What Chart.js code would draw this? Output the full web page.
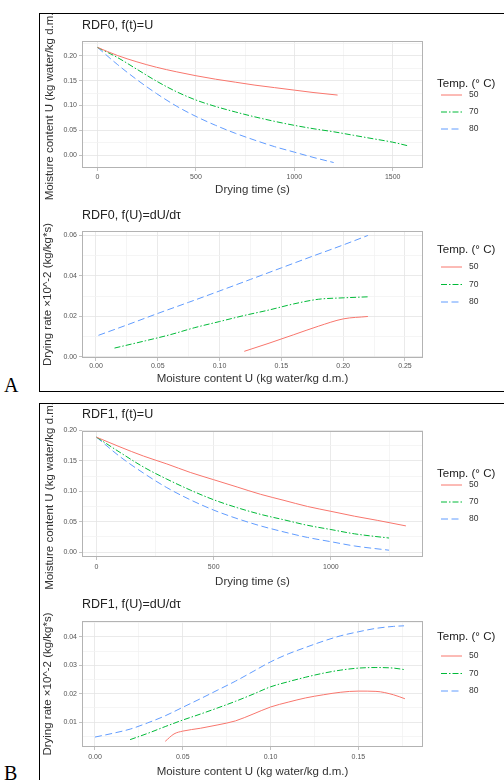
<!DOCTYPE html>
<html>
<head>
<meta charset="utf-8">
<script src="https://cdn.jsdelivr.net/npm/chart.js@4.4.1/dist/chart.umd.min.js"></script>
<style>
  html, body { margin: 0; padding: 0; background: #fff; }
  body { width: 504px; height: 780px; position: relative; overflow: hidden; }
  .box { position: absolute; border: 1px solid #000; box-sizing: border-box; }
  .tag { position: absolute; font-family: "Liberation Serif", "Times New Roman", serif; font-size: 20px; line-height: 20px; color: #000; }
  .panel { position: absolute; left: 40px; }
</style>
</head>
<body>
<div class="box" style="left:39px; top:13px; width:480px; height:379px;"></div>
<div class="box" style="left:39px; top:403px; width:480px; height:400px;"></div>
<div class="tag" style="left:4px; top:375px;">A</div>
<div class="tag" style="left:4px; top:763px;">B</div>
<div class="panel" style="top:14px;"><canvas id="p1" width="464" height="186"></canvas></div>
<div class="panel" style="top:200px;"><canvas id="p2" width="464" height="191"></canvas></div>
<div class="panel" style="top:404px;"><canvas id="p3" width="464" height="186"></canvas></div>
<div class="panel" style="top:590px;"><canvas id="p4" width="464" height="190"></canvas></div>
<script>
// series names (legend)
const temps = ['50', '70', '80'];

// RDF0, f(t)=U : moisture content vs drying time
const rdf0Time50 = [0, 100, 200, 300, 400, 500, 600, 700, 800, 900, 1000, 1100, 1220];
const rdf0U50    = [0.217, 0.201, 0.188, 0.177, 0.168, 0.160, 0.153, 0.147, 0.141, 0.136, 0.131, 0.126, 0.121];
const rdf0Time70 = [0, 100, 200, 300, 400, 500, 600, 700, 800, 900, 1000, 1100, 1200, 1300, 1400, 1500, 1575];
const rdf0U70    = [0.217, 0.197, 0.173, 0.149, 0.128, 0.111, 0.098, 0.087, 0.077, 0.068, 0.060, 0.053, 0.047, 0.040, 0.033, 0.026, 0.019];
const rdf0Time80 = [0, 100, 200, 300, 400, 500, 600, 700, 800, 900, 1000, 1100, 1200];
const rdf0U80    = [0.217, 0.183, 0.152, 0.124, 0.099, 0.078, 0.060, 0.044, 0.030, 0.017, 0.006, -0.005, -0.015];

// RDF0, f(U)=dU/dt : drying rate vs moisture content
const rdf0RateU50 = [0.120, 0.140, 0.160, 0.180, 0.200, 0.220];
const rdf0Rate50  = [0.0028, 0.0068, 0.0110, 0.0152, 0.0188, 0.0200];
const rdf0RateU70 = [0.015, 0.040, 0.060, 0.080, 0.100, 0.120, 0.140, 0.160, 0.180, 0.200, 0.220];
const rdf0Rate70  = [0.0044, 0.0080, 0.0110, 0.0145, 0.0175, 0.0205, 0.0232, 0.0262, 0.0285, 0.0292, 0.0297];
const rdf0RateU80 = [0.002, 0.025, 0.050, 0.075, 0.100, 0.125, 0.150, 0.175, 0.200, 0.220];
const rdf0Rate80  = [0.0107, 0.0158, 0.0215, 0.0270, 0.0326, 0.0383, 0.0440, 0.0497, 0.0553, 0.0600];

// RDF1, f(t)=U
const rdf1Time50 = [0, 100, 200, 300, 400, 500, 600, 700, 800, 900, 1000, 1100, 1200, 1320];
const rdf1U50    = [0.189, 0.173, 0.158, 0.145, 0.131, 0.119, 0.107, 0.095, 0.085, 0.075, 0.067, 0.059, 0.052, 0.043];
const rdf1Time70 = [0, 100, 200, 300, 400, 500, 600, 700, 800, 900, 1000, 1100, 1248];
const rdf1U70    = [0.189, 0.164, 0.140, 0.120, 0.102, 0.086, 0.073, 0.062, 0.053, 0.044, 0.037, 0.030, 0.023];
const rdf1Time80 = [0, 100, 200, 300, 400, 500, 600, 700, 800, 900, 1000, 1100, 1248];
const rdf1U80    = [0.189, 0.157, 0.130, 0.106, 0.086, 0.069, 0.055, 0.043, 0.033, 0.024, 0.017, 0.010, 0.003];

// RDF1, f(U)=dU/dt
const rdf1RateU50 = [0.040, 0.045, 0.050, 0.060, 0.070, 0.080, 0.090, 0.100, 0.110, 0.120, 0.130, 0.140, 0.150, 0.160, 0.170, 0.1765];
const rdf1Rate50  = [0.0032, 0.0058, 0.0068, 0.0078, 0.0090, 0.0104, 0.0128, 0.0153, 0.0170, 0.0185, 0.0196, 0.0205, 0.0209, 0.0208, 0.0196, 0.0182];
const rdf1RateU70 = [0.020, 0.030, 0.040, 0.050, 0.060, 0.070, 0.080, 0.090, 0.100, 0.110, 0.120, 0.130, 0.140, 0.150, 0.160, 0.170, 0.176];
const rdf1Rate70  = [0.0038, 0.0060, 0.0084, 0.0107, 0.0128, 0.0150, 0.0173, 0.0198, 0.0224, 0.0242, 0.0258, 0.0272, 0.0283, 0.0290, 0.0292, 0.0290, 0.0285];
const rdf1RateU80 = [0.000, 0.010, 0.020, 0.030, 0.040, 0.050, 0.060, 0.070, 0.080, 0.090, 0.100, 0.110, 0.120, 0.130, 0.140, 0.150, 0.160, 0.170, 0.176];
const rdf1Rate80  = [0.0047, 0.0060, 0.0075, 0.0097, 0.0122, 0.0152, 0.0182, 0.0213, 0.0244, 0.0278, 0.0312, 0.0340, 0.0363, 0.0385, 0.0404, 0.0418, 0.0430, 0.0437, 0.0439];

// tick labels
const rdf0TimeTicks = [0, 500, 1000, 1500];
const rdf0UTicks = [0.00, 0.05, 0.10, 0.15, 0.20];
const rdf0RateXTicks = [0.00, 0.05, 0.10, 0.15, 0.20, 0.25];
const rdf0RateYTicks = [0.00, 0.02, 0.04, 0.06];
const rdf1TimeTicks = [0, 500, 1000];
const rdf1UTicks = [0.00, 0.05, 0.10, 0.15, 0.20];
const rdf1RateXTicks = [0.00, 0.05, 0.10, 0.15];
const rdf1RateYTicks = [0.01, 0.02, 0.03, 0.04];

const colors = ['#F8766D', '#00BA38', '#619CFF'];
const dashes = [[], [6, 2, 1.5, 2], [7, 3.5]];

Chart.defaults.font.family = '"Liberation Sans", Arial, sans-serif';

function pts(xs, ys) {
  return xs.map((x, i) => ({ x: x, y: ys[i] }));
}

function series(list) {
  return list.map((s, i) => ({
    label: temps[i],
    data: pts(s[0], s[1]),
    borderColor: colors[i],
    borderDash: dashes[i],
    borderWidth: 1,
    pointRadius: 0,
    showLine: true,
    fill: false,
    cubicInterpolationMode: 'monotone'
  }));
}

// panel border + legend in ggplot style
const ggExtras = {
  id: 'ggExtras',
  afterDatasetsDraw(chart, args, o) {
    const { ctx, chartArea: a } = chart;
    ctx.save();
    ctx.strokeStyle = '#b3b3b3';
    ctx.lineWidth = 1;
    ctx.setLineDash([]);
    ctx.strokeRect(Math.round(a.left) + 0.5, Math.round(a.top) + 0.5, Math.round(a.right - a.left) - 1, Math.round(a.bottom - a.top) - 1);

    const x0 = a.right + 14;
    ctx.textAlign = 'left';
    ctx.textBaseline = 'middle';
    ctx.fillStyle = '#222';
    ctx.font = '11.5px "Liberation Sans", Arial, sans-serif';
    ctx.fillText('Temp. (° C)', x0, a.top + o.titleY);
    chart.data.datasets.forEach((ds, i) => {
      const y = a.top + o.firstY + i * o.gap;
      ctx.strokeStyle = ds.borderColor;
      ctx.lineWidth = ds.borderWidth;
      ctx.setLineDash(ds.borderDash);
      ctx.beginPath();
      ctx.moveTo(x0 + 4, y);
      ctx.lineTo(x0 + 25, y);
      ctx.stroke();
      ctx.setLineDash([]);
      ctx.fillStyle = '#333';
      ctx.font = '8.5px "Liberation Sans", Arial, sans-serif';
      ctx.fillText(ds.label, x0 + 32, y);
    });
    ctx.restore();
  }
};

function axis(pos, title, min, max, majors, digits, size, tickPad, titlePad) {
  const tol = (max - min) * 1e-6;
  const isMajor = v => majors.some(m => Math.abs(m - v) < tol);
  const step = majors[1] - majors[0];
  return {
    type: 'linear',
    position: pos,
    min: min,
    max: max,
    afterBuildTicks(s) {
      const vals = majors.slice();
      for (let k = -1; k < majors.length; k++) {
        const mid = majors[0] + (k + 0.5) * step;
        if (mid > min && mid < max) vals.push(mid);
      }
      vals.sort((p, q) => p - q);
      s.ticks = vals.map(v => ({ value: v }));
    },
    afterFit(s) {
      if (pos === 'left') s.width = size; else s.height = size;
    },
    border: { display: false },
    grid: {
      color: c => isMajor(c.tick.value) ? '#e4e4e4' : '#f3f3f3',
      lineWidth: 0.8,
      tickColor: c => isMajor(c.tick.value) ? '#b3b3b3' : 'rgba(0,0,0,0)',
      tickLength: 3
    },
    ticks: {
      autoSkip: false,
      maxRotation: 0,
      padding: tickPad,
      color: '#555',
      font: { size: 7 },
      callback: v => isMajor(v) ? v.toFixed(digits) : ''
    },
    title: {
      display: true,
      text: title,
      color: '#333',
      font: { size: 11.5 },
      padding: pos === 'left' ? { top: titlePad, bottom: 0 } : { top: 0, bottom: titlePad }
    }
  };
}

function panel(id, name, sets, xAx, yAx, titlePad, leg) {
  return new Chart(document.getElementById(id), {
    type: 'scatter',
    data: { datasets: series(sets) },
    plugins: [ggExtras],
    options: {
      responsive: false,
      animation: false,
      devicePixelRatio: 1,
      layout: { padding: { left: 0, right: 81, top: 0, bottom: 0 } },
      scales: { x: xAx, y: yAx },
      plugins: {
        legend: { display: false },
        tooltip: { enabled: false },
        title: {
          display: true,
          text: name,
          align: 'start',
          fullSize: false,
          color: '#222',
          font: { size: 12.5, weight: 'normal', lineHeight: 1.2 },
          padding: titlePad
        },
        ggExtras: leg
      }
    }
  });
}

const uTitle = 'Moisture content U (kg water/kg d.m.)';
const tTitle = 'Drying time (s)';
const rTitle = 'Drying rate ×10^-2 (kg/kg*s)';

panel('p1', 'RDF0, f(t)=U',
  [[rdf0Time50, rdf0U50], [rdf0Time70, rdf0U70], [rdf0Time80, rdf0U80]],
  axis('bottom', tTitle, -79, 1654, rdf0TimeTicks, 0, 32, 2, 3.1),
  axis('left', uTitle, -0.026, 0.230, rdf0UTicks, 2, 42, 2, 3.1),
  { top: 4.5, bottom: 7.5 },
  { titleY: 43, firstY: 54, gap: 17 });

panel('p2', 'RDF0, f(U)=dU/dτ',
  [[rdf0RateU50, rdf0Rate50], [rdf0RateU70, rdf0Rate70], [rdf0RateU80, rdf0Rate80]],
  axis('bottom', uTitle, -0.0113, 0.2646, rdf0RateXTicks, 2, 33, 1, 5.1),
  axis('left', rTitle, -0.0005, 0.0622, rdf0RateYTicks, 2, 42, 2, 1.4),
  { top: 8.5, bottom: 7.5 },
  { titleY: 19, firstY: 36, gap: 17.5 });

panel('p3', 'RDF1, f(t)=U',
  [[rdf1Time50, rdf1U50], [rdf1Time70, rdf1U70], [rdf1Time80, rdf1U80]],
  axis('bottom', tTitle, -62, 1393, rdf1TimeTicks, 0, 33, 2.5, 1.4),
  axis('left', uTitle, -0.0082, 0.1992, rdf1UTicks, 2, 42, 2, 3.1),
  { top: 3.5, bottom: 8.5 },
  { titleY: 43, firstY: 54, gap: 17 });

panel('p4', 'RDF1, f(U)=dU/dτ',
  [[rdf1RateU50, rdf1Rate50], [rdf1RateU70, rdf1Rate70], [rdf1RateU80, rdf1Rate80]],
  axis('bottom', uTitle, -0.0074, 0.1868, rdf1RateXTicks, 2, 33, 3, 1.4),
  axis('left', rTitle, 0.0012, 0.0456, rdf1RateYTicks, 2, 42, 2, 1.4),
  { top: 7.5, bottom: 8.5 },
  { titleY: 16, firstY: 35, gap: 17.5 });
</script>
</body>
</html>
